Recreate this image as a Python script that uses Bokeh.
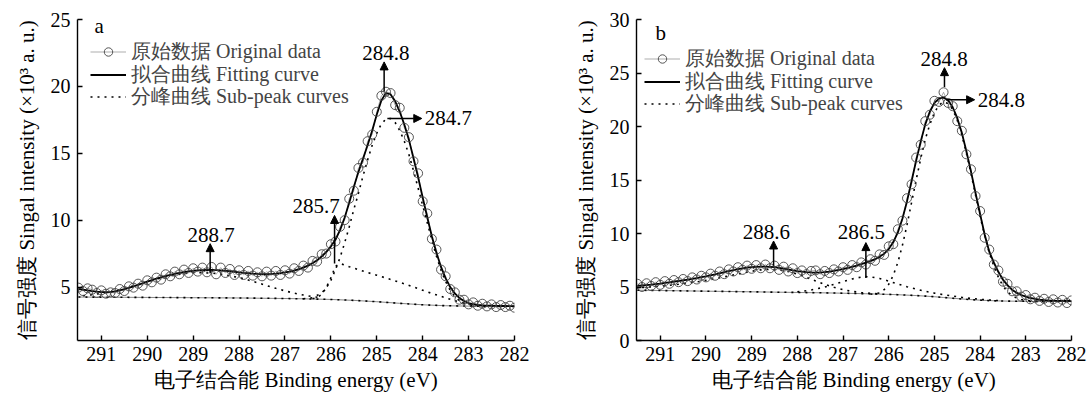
from bokeh.plotting import figure
from bokeh.models import (Range1d, FixedTicker, Legend, LegendItem, Arrow,
                          NormalHead, ColumnDataSource, Label)
from bokeh.layouts import row
from bokeh.embed import file_html
from bokeh.resources import INLINE
from bokeh.core.properties import value

FONT = "Liberation Serif"

# ---------------- shared axis data ----------------
energy = [291.5, 291.4, 291.3, 291.2, 291.1, 291.0, 290.9, 290.8, 290.7, 290.6,
          290.5, 290.4, 290.3, 290.2, 290.1, 290.0, 289.9, 289.8, 289.7, 289.6,
          289.5, 289.4, 289.3, 289.2, 289.1, 289.0, 288.9, 288.8, 288.7, 288.6,
          288.5, 288.4, 288.3, 288.2, 288.1, 288.0, 287.9, 287.8, 287.7, 287.6,
          287.5, 287.4, 287.3, 287.2, 287.1, 287.0, 286.9, 286.8, 286.7, 286.6,
          286.5, 286.4, 286.3, 286.2, 286.1, 286.0, 285.9, 285.8, 285.7, 285.6,
          285.5, 285.4, 285.3, 285.2, 285.1, 285.0, 284.9, 284.8, 284.7, 284.6,
          284.5, 284.4, 284.3, 284.2, 284.1, 284.0, 283.9, 283.8, 283.7, 283.6,
          283.5, 283.4, 283.3, 283.2, 283.1, 283.0, 282.9, 282.8, 282.7, 282.6,
          282.5, 282.4, 282.3, 282.2, 282.1, 282.0]
x_ticks = [291, 290, 289, 288, 287, 286, 285, 284, 283, 282]
x_label = "电子结合能 Binding energy (eV)"
y_label = "信号强度 Singal intensity (×10³ a. u.)"
legend_labels = ["原始数据 Original data", "拟合曲线 Fitting curve", "分峰曲线 Sub-peak curves"]

# ---------------- panel a ----------------
a_data = [4.95, 4.70, 4.90, 4.80, 4.55, 4.75, 4.50, 4.60, 4.55, 4.85,
          4.70, 5.05, 4.95, 5.25, 5.10, 5.50, 5.35, 5.70, 5.55, 5.95,
          5.80, 6.15, 5.95, 6.30, 6.05, 6.40, 6.15, 6.45, 6.10, 6.50,
          5.95, 6.45, 6.05, 6.35, 5.90, 6.25, 5.90, 6.20, 5.85, 6.10,
          5.80, 6.15, 5.85, 6.20, 5.90, 6.25, 6.00, 6.40, 6.20, 6.60,
          6.45, 6.95, 6.90, 7.45, 7.50, 8.20, 8.40, 9.50, 10.0, 11.6,
          12.2, 13.9, 14.3, 15.9, 16.4, 18.1, 19.3, 19.6, 19.5, 18.6,
          18.4, 16.9, 16.2, 14.4, 13.5, 11.4, 10.5, 8.60, 7.80, 6.30,
          5.80, 4.85, 4.60, 4.05, 4.05, 3.70, 3.85, 3.60, 3.75, 3.55,
          3.70, 3.50, 3.65, 3.50, 3.60, 3.45]
a_fit = [4.85, 4.80, 4.74, 4.69, 4.65, 4.62, 4.61, 4.63, 4.68, 4.75,
         4.84, 4.94, 5.05, 5.16, 5.28, 5.40, 5.51, 5.62, 5.72, 5.82,
         5.91, 5.99, 6.06, 6.12, 6.17, 6.21, 6.24, 6.26, 6.27, 6.27,
         6.26, 6.24, 6.21, 6.18, 6.14, 6.10, 6.06, 6.03, 6.00, 5.98,
         5.97, 5.97, 5.98, 6.00, 6.04, 6.09, 6.15, 6.23, 6.33, 6.45,
         6.60, 6.78, 7.00, 7.28, 7.62, 8.02, 8.55, 9.25, 10.2, 11.3,
         12.5, 13.6, 14.6, 15.6, 16.7, 17.9, 18.95, 19.5, 19.4, 18.9,
         18.1, 17.15, 16.0, 14.65, 13.2, 11.7, 10.2, 8.80, 7.55, 6.50,
         5.65, 5.00, 4.52, 4.18, 3.95, 3.80, 3.71, 3.66, 3.63, 3.61,
         3.60, 3.59, 3.58, 3.58, 3.57, 3.57]
a_bg_x = [291.5, 291.0, 290.5, 290.0, 289.5, 289.0, 288.5, 288.0, 287.5, 287.0,
          286.5, 286.0, 285.5, 285.0, 284.5, 284.0, 283.5, 283.0, 282.5, 282.0]
a_bg = [4.25, 4.24, 4.23, 4.22, 4.21, 4.20, 4.19, 4.18, 4.16, 4.14,
        4.11, 4.07, 4.00, 3.90, 3.78, 3.67, 3.60, 3.57, 3.55, 3.54]
a_p1_x = [291.4, 291.2, 291.0, 290.8, 290.6, 290.4, 290.2, 290.0, 289.8, 289.6,
          289.4, 289.2, 289.0, 288.8, 288.6, 288.4, 288.2, 288.0, 287.8, 287.6,
          287.4, 287.2, 287.0, 286.8, 286.6, 286.4, 286.2]
a_p1 = [4.35, 4.42, 4.52, 4.64, 4.80, 4.98, 5.18, 5.38, 5.58, 5.76,
        5.90, 6.00, 6.06, 6.07, 6.04, 5.96, 5.84, 5.70, 5.52, 5.32,
        5.11, 4.90, 4.71, 4.54, 4.40, 4.28, 4.19]
a_p2_x = [286.4, 286.3, 286.2, 286.1, 286.0, 285.9, 285.8, 285.7, 285.6, 285.4,
          285.2, 285.0, 284.8, 284.6, 284.4, 284.2, 284.0, 283.8, 283.6, 283.4,
          283.2, 283.0, 282.8, 282.6]
a_p2 = [4.12, 4.20, 4.45, 4.95, 5.70, 6.55, 6.75, 6.65, 6.52, 6.30,
        6.08, 5.88, 5.67, 5.46, 5.24, 5.00, 4.76, 4.52, 4.30, 4.08,
        3.88, 3.72, 3.62, 3.57]
a_p3_x = [286.6, 286.4, 286.2, 286.1, 286.0, 285.9, 285.8, 285.7, 285.6, 285.5,
          285.4, 285.3, 285.2, 285.1, 285.0, 284.9, 284.8, 284.7, 284.6, 284.5,
          284.4, 284.3, 284.2, 284.1, 284.0, 283.9, 283.8, 283.7, 283.6, 283.5,
          283.4, 283.3, 283.2, 283.1, 283.0, 282.8, 282.6]
a_p3 = [4.12, 4.20, 4.55, 4.95, 5.50, 6.30, 7.20, 8.30, 9.50, 10.8,
        12.0, 13.3, 14.5, 15.6, 16.5, 17.2, 17.55, 17.6, 17.3, 16.7,
        15.9, 14.9, 13.7, 12.4, 11.1, 9.80, 8.50, 7.30, 6.25, 5.40,
        4.75, 4.30, 3.98, 3.78, 3.67, 3.58, 3.55]
a_vlab = ["284.8", "285.7", "288.7"]
a_vlab_x = [284.8, 286.32, 288.61]
a_vlab_y = [21.95, 10.55, 8.40]
a_varr_x = [284.84, 285.92, 288.63]
a_varr_y0 = [19.6, 6.76, 6.02]
a_varr_y1 = [21.83, 10.35, 8.24]
a_hlab = ["284.7"]
a_harr_x0 = [284.77]
a_harr_x1 = [284.02]
a_harr_y = [17.6]

# ---------------- panel b ----------------
b_data = [5.30, 5.00, 5.35, 5.10, 5.45, 5.20, 5.55, 5.30, 5.65, 5.45,
          5.75, 5.55, 5.90, 5.70, 6.05, 5.90, 6.25, 6.05, 6.45, 6.20,
          6.65, 6.45, 6.85, 6.60, 7.00, 6.70, 7.05, 6.75, 7.10, 6.75,
          7.00, 6.60, 6.90, 6.45, 6.75, 6.30, 6.55, 6.20, 6.50, 6.55,
          6.20, 6.50, 6.30, 6.65, 6.45, 6.85, 6.60, 7.05, 6.85, 7.30,
          7.10, 7.60, 7.45, 8.05, 8.00, 8.80, 9.00, 10.4, 11.2, 13.3,
          14.6, 17.1, 18.3, 20.5, 21.1, 22.4, 22.3, 23.2, 22.2, 21.9,
          20.5, 19.6, 17.4, 16.0, 13.5, 12.1, 9.60, 8.50, 7.10, 6.55,
          5.50, 5.30, 4.60, 4.60, 4.10, 4.25, 3.85, 4.00, 3.70, 3.90,
          3.60, 3.85, 3.55, 3.80, 3.50, 3.75]
b_fit = [5.10, 5.14, 5.18, 5.22, 5.27, 5.32, 5.38, 5.44, 5.50, 5.56,
         5.62, 5.69, 5.76, 5.84, 5.92, 6.00, 6.09, 6.18, 6.28, 6.38,
         6.48, 6.58, 6.67, 6.75, 6.81, 6.86, 6.89, 6.91, 6.91, 6.89,
         6.85, 6.79, 6.72, 6.64, 6.56, 6.49, 6.43, 6.39, 6.36, 6.35,
         6.36, 6.39, 6.44, 6.51, 6.59, 6.68, 6.78, 6.89, 7.00, 7.13,
         7.27, 7.42, 7.60, 7.82, 8.12, 8.55, 9.20, 10.1, 11.4, 13.0,
         14.9, 16.8, 18.6, 20.2, 21.4, 22.2, 22.6, 22.7, 22.45, 21.8,
         20.8, 19.4, 17.7, 15.8, 13.8, 11.8, 9.90, 8.30, 7.30, 6.40,
         5.70, 5.15, 4.75, 4.45, 4.25, 4.10, 3.98, 3.88, 3.81, 3.77,
         3.74, 3.72, 3.71, 3.70, 3.70, 3.69]
b_bg_x = [291.5, 291.0, 290.5, 290.0, 289.5, 289.0, 288.5, 288.0, 287.5, 287.0,
          286.5, 286.0, 285.8, 285.6, 285.4, 285.2, 285.0, 284.8, 284.6, 284.4,
          284.2, 284.0, 283.8, 283.6, 283.4, 283.0, 282.5, 282.0]
b_bg = [4.70, 4.67, 4.64, 4.61, 4.58, 4.55, 4.52, 4.49, 4.46, 4.42,
        4.37, 4.31, 4.28, 4.24, 4.20, 4.15, 4.09, 4.02, 3.95, 3.88,
        3.82, 3.77, 3.73, 3.70, 3.68, 3.66, 3.65, 3.64]
b_p1_x = [291.4, 291.0, 290.6, 290.2, 289.8, 289.4, 289.0, 288.8, 288.6, 288.4,
          288.2, 288.0, 287.8, 287.6, 287.4, 287.2, 287.0, 286.8, 286.6, 286.4,
          286.2]
b_p1 = [4.95, 5.08, 5.25, 5.47, 5.77, 6.13, 6.47, 6.60, 6.65, 6.60,
        6.45, 6.20, 5.90, 5.57, 5.25, 4.97, 4.75, 4.59, 4.48, 4.41,
        4.36]
b_p2_x = [288.0, 287.8, 287.6, 287.4, 287.2, 287.0, 286.8, 286.6, 286.5, 286.4,
          286.2, 286.0, 285.8, 285.6, 285.4, 285.2, 285.0, 284.8, 284.6, 284.4,
          284.2, 284.0, 283.8, 283.6]
b_p2 = [4.55, 4.65, 4.80, 5.00, 5.25, 5.50, 5.75, 5.93, 5.97, 5.95,
        5.80, 5.55, 5.28, 5.02, 4.80, 4.60, 4.43, 4.28, 4.15, 4.03,
        3.93, 3.85, 3.78, 3.73]
b_p3_x = [286.4, 286.2, 286.1, 286.0, 285.9, 285.8, 285.7, 285.6, 285.5, 285.4,
          285.3, 285.2, 285.1, 285.0, 284.9, 284.8, 284.7, 284.6, 284.5, 284.4,
          284.3, 284.2, 284.1, 284.0, 283.9, 283.8, 283.7, 283.6, 283.5, 283.4,
          283.3, 283.2, 283.1, 283.0, 282.8, 282.6]
b_p3 = [4.32, 4.45, 4.75, 5.25, 6.10, 7.30, 8.90, 10.8, 12.9, 15.0,
        17.0, 18.8, 20.2, 21.3, 22.0, 22.3, 22.15, 21.6, 20.6, 19.2,
        17.5, 15.6, 13.6, 11.6, 9.80, 8.20, 6.95, 5.90, 5.10, 4.55,
        4.20, 3.97, 3.83, 3.75, 3.68, 3.65]
b_vlab = ["284.8", "286.5", "288.6"]
b_vlab_x = [284.79, 286.6, 288.68]
b_vlab_y = [25.65, 9.45, 9.45]
b_varr_x = [284.78, 286.5, 288.52]
b_varr_y0 = [23.7, 5.83, 6.98]
b_varr_y1 = [25.5, 9.15, 9.3]
b_hlab = ["284.8"]
b_harr_x0 = [284.75]
b_harr_x1 = [284.12]
b_harr_y = [22.5]


def make_panel(letter, width, height, bl, br, bt, bb, y_start, y_end, y_ticks,
               data, fit, bg_x, bg, peaks, vlab, vlab_x, vlab_y, varr_x, varr_y0,
               varr_y1, hlab, harr_x0, harr_x1, harr_y, legend_x, legend_ys,
               letter_pos):
    p = figure(width=width, height=height, x_range=Range1d(291.52, 282.0),
               y_range=Range1d(y_start, y_end), output_backend="svg",
               toolbar_location=None, min_border_left=bl, min_border_right=br,
               min_border_top=bt, min_border_bottom=bb)
    p.outline_line_color = None
    p.xgrid.visible = False
    p.ygrid.visible = False
    p.background_fill_color = "white"
    for ax, ticks in ((p.xaxis[0], x_ticks), (p.yaxis[0], y_ticks)):
        ax.ticker = FixedTicker(ticks=ticks)
        ax.major_tick_in = 5
        ax.major_tick_out = 0
        ax.minor_tick_line_color = None
        ax.axis_line_width = 1.4
        ax.major_tick_line_width = 1.4
        ax.axis_line_color = "black"
        ax.major_tick_line_color = "black"
        ax.major_label_text_font = FONT
        ax.major_label_text_font_size = "20px"
        ax.major_label_text_color = "black"
        ax.axis_label_text_font = FONT
        ax.axis_label_text_font_size = "21px"
        ax.axis_label_text_font_style = "normal"
        ax.axis_label_text_color = "black"
    p.xaxis.axis_label = x_label
    p.yaxis.axis_label = y_label
    p.xaxis.major_label_standoff = 6
    p.xaxis.axis_label_standoff = 4
    p.yaxis.major_label_standoff = 7
    p.yaxis.axis_label_standoff = 9

    # peak labels (drawn first, under the curves)
    p.text(x=vlab_x, y=vlab_y, text=vlab, text_font=value(FONT),
           text_font_size="21px", text_align="center", text_baseline="bottom",
           text_color="black")
    p.text(x=harr_x1, y=harr_y, text=hlab, text_font=value(FONT),
           text_font_size="21px", text_align="left", text_baseline="middle",
           text_color="black", x_offset=3)

    # background
    p.line(bg_x, bg, line_color="#666666", line_width=0.8)
    p.line(bg_x, bg, line_color="black", line_width=1.6, line_dash="2 5")
    peak_rs = []
    for px, py in peaks:
        peak_rs.append(p.line(px, py, line_color="black", line_width=1.6,
                              line_dash="2 5"))
    dline = p.line(energy, data, line_color="#777777", line_width=0.6)
    fit_r = p.line(energy, fit, line_color="black", line_width=1.8)
    dat_r = p.scatter(energy, data, marker="circle", size=9, fill_color=None,
                      line_color="#444444", line_width=0.9)

    head = dict(size=8, fill_color="black", line_color="black")
    vsrc = ColumnDataSource(dict(x0=varr_x, y0=varr_y0, x1=varr_x, y1=varr_y1))
    p.add_layout(Arrow(end=NormalHead(**head), source=vsrc, x_start="x0",
                       y_start="y0", x_end="x1", y_end="y1", line_width=1.5,
                       line_color="black"))
    hsrc = ColumnDataSource(dict(x0=harr_x0, y0=harr_y, x1=harr_x1, y1=harr_y))
    p.add_layout(Arrow(end=NormalHead(**head), source=hsrc, x_start="x0",
                       y_start="y0", x_end="x1", y_end="y1", line_width=1.5,
                       line_color="black"))

    item_rs = [[dline, dat_r], [fit_r], [peak_rs[-1]]]
    for lab, rs, ly in zip(legend_labels, item_rs, legend_ys):
        leg = Legend(items=[LegendItem(label=lab, renderers=rs)],
                     location=(legend_x, ly), padding=0, spacing=0, margin=0,
                     glyph_width=36, glyph_height=21, label_height=21,
                     label_standoff=5, label_text_font=FONT,
                     label_text_font_size="20px", background_fill_alpha=0,
                     border_line_color=None)
        p.add_layout(leg)
    p.add_layout(Label(x=letter_pos[0], y=letter_pos[1], x_units="screen",
                       y_units="screen", text=letter, text_font=FONT,
                       text_font_size="21px", text_baseline="alphabetic",
                       text_color="black"))
    return p


pa = make_panel("a", 530, 400, 77, 16, 19, 57, 1, 25, [5, 10, 15, 20, 25],
                a_data, a_fit, a_bg_x, a_bg,
                [(a_p1_x, a_p1), (a_p2_x, a_p2), (a_p3_x, a_p3)],
                a_vlab, a_vlab_x, a_vlab_y, a_varr_x, a_varr_y0, a_varr_y1,
                a_hlab, a_harr_x0, a_harr_x1, a_harr_y,
                13, [275, 252.5, 230], (17, 315))
pb = make_panel("b", 559, 400, 106, 18, 18, 60, 0, 30, [0, 5, 10, 15, 20, 25, 30],
                b_data, b_fit, b_bg_x, b_bg,
                [(b_p1_x, b_p1), (b_p2_x, b_p2), (b_p3_x, b_p3)],
                b_vlab, b_vlab_x, b_vlab_y, b_varr_x, b_varr_y0, b_varr_y1,
                b_hlab, b_harr_x0, b_harr_x1, b_harr_y,
                8, [268, 245.5, 223], (19, 308))

layout = row(pa, pb)
open("out.html", "w").write(file_html(layout, INLINE))
